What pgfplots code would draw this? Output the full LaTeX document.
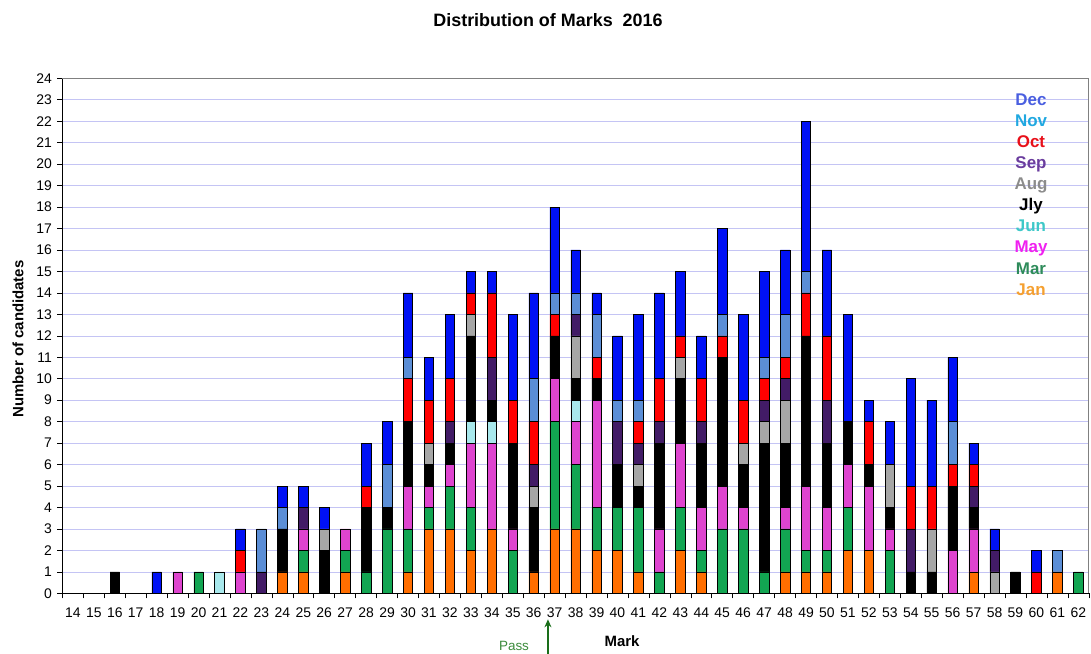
\documentclass[border=0pt]{standalone}
\usepackage{pgfplots}
\pgfplotsset{compat=1.18}
\usepackage{pgfplotstable}
\usepackage{fontspec}
\setmainfont{Liberation Sans}
\usetikzlibrary{arrows.meta}
\definecolor{cJan}{HTML}{FF6E00}
\definecolor{cMar}{HTML}{12A552}
\definecolor{cMay}{HTML}{DE44CF}
\definecolor{cJun}{HTML}{A8E8EC}
\definecolor{cJly}{HTML}{000000}
\definecolor{cAug}{HTML}{A6A6A6}
\definecolor{cSep}{HTML}{421B66}
\definecolor{cOct}{HTML}{FF0000}
\definecolor{cNov}{HTML}{5B8ED6}
\definecolor{cDec}{HTML}{0011F5}
\definecolor{lJan}{HTML}{F5A030}
\definecolor{lMar}{HTML}{2E8B5A}
\definecolor{lMay}{HTML}{F020F0}
\definecolor{lJun}{HTML}{3EC8C8}
\definecolor{lJly}{HTML}{000000}
\definecolor{lAug}{HTML}{8C8C8C}
\definecolor{lSep}{HTML}{6A3C9E}
\definecolor{lOct}{HTML}{E8101A}
\definecolor{lNov}{HTML}{20A8E0}
\definecolor{lDec}{HTML}{4A5FE0}
\definecolor{gridc}{HTML}{C4C4F4}
\definecolor{passg}{HTML}{3A8A3A}
\definecolor{arrg}{HTML}{1A6E1A}
\pgfplotstableread{
x Jan Mar May Jun Jly Aug Sep Oct Nov Dec
14 0 0 0 0 0 0 0 0 0 0
15 0 0 0 0 0 0 0 0 0 0
16 0 0 0 0 1 0 0 0 0 0
17 0 0 0 0 0 0 0 0 0 0
18 0 0 0 0 0 0 0 0 0 1
19 0 0 1 0 0 0 0 0 0 0
20 0 1 0 0 0 0 0 0 0 0
21 0 0 0 1 0 0 0 0 0 0
22 0 0 1 0 0 0 0 1 0 1
23 0 0 0 0 0 0 1 0 2 0
24 1 0 0 0 2 0 0 0 1 1
25 1 1 1 0 0 0 1 0 0 1
26 0 0 0 0 2 1 0 0 0 1
27 1 1 1 0 0 0 0 0 0 0
28 0 1 0 0 3 0 0 1 0 2
29 0 3 0 0 1 0 0 0 2 2
30 1 2 2 0 3 0 0 2 1 3
31 3 1 1 0 1 1 0 2 0 2
32 3 2 1 0 1 0 1 2 0 3
33 2 2 3 1 4 1 0 1 0 1
34 3 0 4 1 1 0 2 3 0 1
35 0 2 1 0 4 0 0 2 0 4
36 1 0 0 0 3 1 1 2 2 4
37 3 5 2 0 2 0 0 1 1 4
38 3 3 2 1 1 2 1 0 1 2
39 2 2 5 0 1 0 0 1 2 1
40 2 2 0 0 2 0 2 0 1 3
41 1 3 0 0 1 1 1 1 1 4
42 0 1 2 0 4 0 1 2 0 4
43 2 2 3 0 3 1 0 1 0 3
44 1 1 2 0 3 0 1 2 0 2
45 0 3 2 0 6 0 0 1 1 4
46 0 3 1 0 2 1 0 2 0 4
47 0 1 0 0 6 1 1 1 1 4
48 1 2 1 0 3 2 1 1 2 3
49 1 1 3 0 7 0 0 2 1 7
50 1 1 2 0 3 0 2 3 0 4
51 2 2 2 0 2 0 0 0 0 5
52 2 0 3 0 1 0 0 2 0 1
53 0 2 1 0 1 2 0 0 0 2
54 0 0 0 0 1 0 2 2 0 5
55 0 0 0 0 1 2 0 2 0 4
56 0 0 2 0 3 0 0 1 2 3
57 1 0 2 0 1 0 1 1 0 1
58 0 0 0 0 0 1 1 0 0 1
59 0 0 0 0 1 0 0 0 0 0
60 0 0 0 0 0 0 0 1 0 1
61 1 0 0 0 0 0 0 0 1 0
62 0 1 0 0 0 0 0 0 0 0
}\marks
\begin{document}
\begin{tikzpicture}
\begin{axis}[
  name=ax,
  width=1026.4bp, height=515bp, scale only axis,
  xmin=13.5, xmax=62.5, ymin=0, ymax=24,
  ybar stacked, bar width=9.5bp,
  clip=false,
  axis lines=left, axis line style={-, black, line width=0.8bp},
  tick align=outside,
  xtick={14,...,62},
  minor xtick={13.5,14.5,...,62.5},
  xtick style={/pgfplots/major tick length=0pt},
  minor tick length=5bp,
  major tick length=5bp,
  ytick={0,...,24},
  tick style={black, line width=0.6bp},
  ymajorgrids, grid style={gridc, line width=0.6bp},
  /pgf/number format/assume math mode=true,
  xticklabel style={font=\fontsize{14}{16}\selectfont, yshift=-6bp, inner xsep=0pt},
  yticklabel style={font=\fontsize{14}{16}\selectfont, xshift=-2bp},
  legend image code/.code={},
  reverse legend,
  legend style={draw=none, fill=none, inner sep=0pt,
    at={(rel axis cs:0.9437,0.9724)}, anchor=north,
    row sep=5.1bp,
    nodes={inner sep=0pt, text height=12.5bp, text depth=3.5bp,
      font=\fontsize{17}{19}\selectfont\bfseries}},
  legend cell align=center,
]
\addplot[fill=cJan, draw=black, line width=0.6bp] table[x=x,y=Jan]{\marks};
\addlegendentry{\textcolor{lJan}{Jan}}
\addplot[fill=cMar, draw=black, line width=0.6bp] table[x=x,y=Mar]{\marks};
\addlegendentry{\textcolor{lMar}{Mar}}
\addplot[fill=cMay, draw=black, line width=0.6bp] table[x=x,y=May]{\marks};
\addlegendentry{\textcolor{lMay}{May}}
\addplot[fill=cJun, draw=black, line width=0.6bp] table[x=x,y=Jun]{\marks};
\addlegendentry{\textcolor{lJun}{Jun}}
\addplot[fill=cJly, draw=black, line width=0.6bp] table[x=x,y=Jly]{\marks};
\addlegendentry{\textcolor{lJly}{Jly}}
\addplot[fill=cAug, draw=black, line width=0.6bp] table[x=x,y=Aug]{\marks};
\addlegendentry{\textcolor{lAug}{Aug}}
\addplot[fill=cSep, draw=black, line width=0.6bp] table[x=x,y=Sep]{\marks};
\addlegendentry{\textcolor{lSep}{Sep}}
\addplot[fill=cOct, draw=black, line width=0.6bp] table[x=x,y=Oct]{\marks};
\addlegendentry{\textcolor{lOct}{Oct}}
\addplot[fill=cNov, draw=black, line width=0.6bp] table[x=x,y=Nov]{\marks};
\addlegendentry{\textcolor{lNov}{Nov}}
\addplot[fill=cDec, draw=black, line width=0.6bp] table[x=x,y=Dec]{\marks};
\addlegendentry{\textcolor{lDec}{Dec}}
\draw[gray, line width=0.8bp] (rel axis cs:0,1) -- (rel axis cs:1,1) -- (rel axis cs:1,0);
\node[font=\fontsize{18}{20}\selectfont\bfseries] at (rel axis cs:0.4731,1.1132) {Distribution of Marks\ \ 2016};
\node[font=\fontsize{15}{17}\selectfont\bfseries, rotate=90] at ([xshift=-44.4bp]rel axis cs:0,0.4938) {Number of candidates};
\node[font=\fontsize{15}{17}\selectfont\bfseries] at ([yshift=-48bp]rel axis cs:0.5452,0) {Mark};
\node[font=\fontsize{13.5}{15}\selectfont, text=passg] at ([yshift=-53bp]rel axis cs:0.4400,0) {Pass};
\draw[arrg, line width=1.4bp, -{Stealth[length=8bp,width=7bp]}] ([yshift=-62bp]axis cs:36.68,0) -- ([yshift=-26bp]axis cs:36.68,0);
\end{axis}
\pgfresetboundingbox
\path[use as bounding box] ([shift={(-62.4bp,-59.7bp)}]ax.south west) rectangle ([shift={(2.2bp,78.3bp)}]ax.north east);
\end{tikzpicture}
\end{document}
